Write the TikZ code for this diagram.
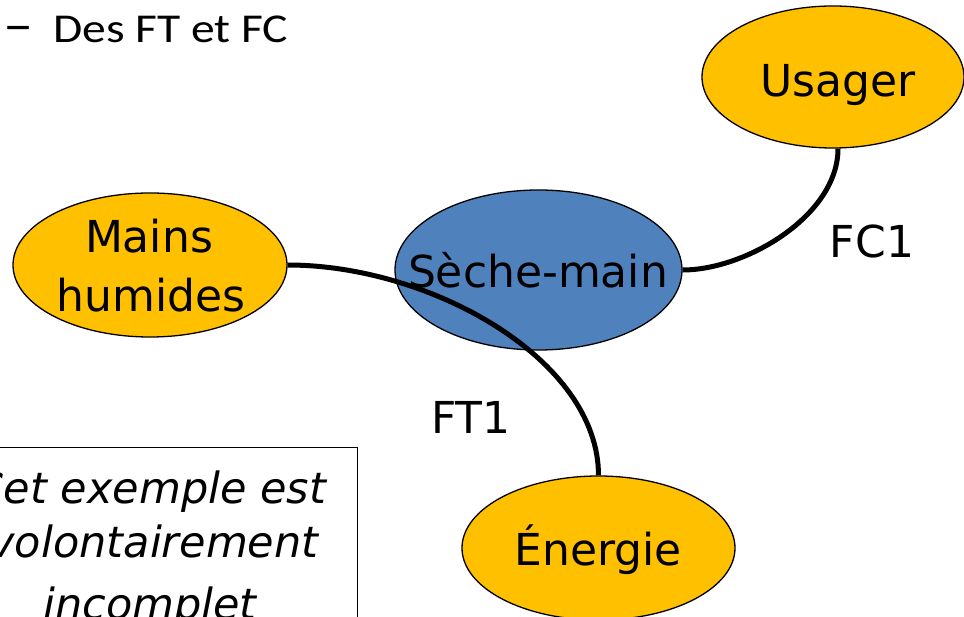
\documentclass[tikz,border=0pt]{standalone}
\usepackage{fontspec}
\setmainfont{DejaVu Sans}
\newfontfamily\headfont[FakeStretch=1.16]{Carlito}
\usetikzlibrary{shapes.geometric}

\definecolor{actorfill}{RGB}{255,192,0}
\definecolor{productfill}{RGB}{79,129,189}

\tikzset{
  actorbox/.style={ellipse, draw=black, line width=1.3pt, fill=actorfill, inner sep=0pt},
  productbox/.style={ellipse, draw=black, line width=1.3pt, fill=productfill, inner sep=0pt},
  lbl/.style={font=\fontsize{44}{52}\selectfont, anchor=base, inner sep=0pt},
  notetext/.style={font=\itshape\fontsize{43}{52}\selectfont, anchor=base, inner sep=0pt},
  headtext/.style={font=\headfont\fontsize{41}{48}\selectfont, anchor=base west, inner sep=0pt},
  link/.style={line width=5pt},
}

\begin{document}
\begin{tikzpicture}[x=1pt, y=-1pt]
  \useasboundingbox (0,0) rectangle (964,617);

  % heading line
  \node[headtext, font=\headfont\fontsize{52}{54}\selectfont] (dash) at (3,43) {–};
  \node[headtext] (head) at (53,43) {Des FT et FC};

  % note box
  \node[draw=black, line width=1.3pt, minimum width=420pt, minimum height=200pt, anchor=north east, inner sep=0pt] (note) at (358,447) {};
  \node[notetext] (n1) at (150,503) {Cet exemple est};
  \node[notetext] (n2) at (154,557) {volontairement};
  \node[notetext] (n3) at (150,619) {incomplet};

  % elements
  \node[actorbox, minimum width=262pt, minimum height=142pt] (us) at (833,77) {};
  \node[actorbox, minimum width=274pt, minimum height=144pt] (mh) at (150,265) {};
  \node[productbox, minimum width=287pt, minimum height=160pt] (sm) at (538.5,270) {};
  \node[actorbox, minimum width=273pt, minimum height=144pt] (en) at (598.5,548) {};

  \node[lbl] (smt) at (538,288) {Sèche-main};

  % functions
  \draw[link] ([xshift=5pt]us.south) .. controls +(0,67) and +(63,0) .. (sm.east);
  \draw[link] (mh.east) .. controls +(143,0) and +(0,-116) .. (en.north);

  \node[lbl] (ust) at (838,97) {Usager};
  \node[lbl] (mht1) at (149,253) {Mains};
  \node[lbl] (mht2) at (151,312) {humides};
  \node[lbl] (ent) at (598,565) {Énergie};
  \node[lbl] (fc1) at (872,258) {FC1};
  \node[lbl] (ft1) at (471,433) {FT1};
\end{tikzpicture}
\end{document}
